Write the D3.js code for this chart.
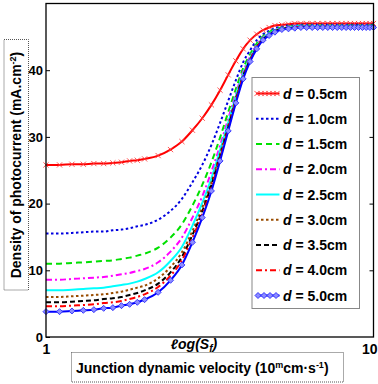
<!DOCTYPE html>
<html>
<head>
<meta charset="utf-8">
<script src="https://cdn.jsdelivr.net/npm/d3@7"></script>
<style>
  body { margin: 0; background: #fff; }
  text { font-family: "Liberation Sans", Arial, sans-serif; font-weight: bold; }
</style>
</head>
<body>
<div id="chart"></div>
<script>
// junction recombination velocity Sf (log axis, 1 .. 10)
const sf = [1.0, 1.1, 1.2, 1.3, 1.4, 1.5, 1.6, 1.7, 1.8, 1.9, 2.0,
  2.2, 2.4, 2.6, 2.8, 3.0, 3.2, 3.4, 3.6, 3.8, 4.0, 4.2, 4.4, 4.6, 4.8, 5.0,
  5.25, 5.5, 5.75, 6.0, 6.25, 6.5, 6.75, 7.0, 7.25, 7.5, 7.75, 8.0, 8.25, 8.5, 8.75, 9.0, 9.25, 9.5, 9.75, 10.0];

const d05 = [25.8, 25.8, 25.9, 25.9, 26.0, 26.0, 26.1, 26.2, 26.4, 26.5, 26.7,
  27.2, 28.1, 29.3, 31.0, 32.8, 34.8, 37.0, 39.3, 41.4, 43.2, 44.5, 45.4, 46.0, 46.4, 46.7,
  46.8, 46.9, 47.0, 47.0, 47.0, 47.0, 47.0, 47.0, 47.0, 47.0, 47.0, 47.0, 47.0, 47.0, 47.0, 47.0, 47.0, 47.0, 47.0, 47.0];
const d10 = [15.5, 15.5, 15.6, 15.7, 15.8, 15.8, 16.0, 16.1, 16.3, 16.6, 16.8,
  17.6, 18.9, 20.7, 23.2, 25.8, 28.8, 32.1, 35.4, 38.5, 41.2, 43.0, 44.5, 45.4, 45.9, 46.3,
  46.5, 46.7, 46.7, 46.8, 46.8, 46.8, 46.8, 46.8, 46.8, 46.8, 46.8, 46.8, 46.8, 46.8, 46.8, 46.8, 46.8, 46.8, 46.8, 46.8];
const d15 = [11.0, 11.0, 11.1, 11.2, 11.3, 11.4, 11.5, 11.7, 11.9, 12.2, 12.5,
  13.4, 14.9, 16.9, 19.7, 22.8, 26.2, 29.9, 33.7, 37.2, 40.3, 42.4, 44.0, 45.1, 45.7, 46.1,
  46.4, 46.6, 46.6, 46.7, 46.7, 46.7, 46.7, 46.7, 46.7, 46.7, 46.7, 46.7, 46.7, 46.7, 46.7, 46.7, 46.7, 46.7, 46.7, 46.7];
const d20 = [8.6, 8.6, 8.7, 8.8, 8.9, 9.0, 9.2, 9.4, 9.6, 9.9, 10.2,
  11.2, 12.8, 14.9, 17.9, 21.1, 24.8, 28.7, 32.7, 36.5, 39.8, 42.0, 43.8, 44.9, 45.5, 46.0,
  46.3, 46.5, 46.5, 46.6, 46.6, 46.6, 46.6, 46.6, 46.6, 46.6, 46.6, 46.6, 46.6, 46.6, 46.6, 46.6, 46.6, 46.6, 46.6, 46.6];
const d25 = [7.0, 7.0, 7.1, 7.2, 7.3, 7.4, 7.6, 7.8, 8.0, 8.3, 8.7,
  9.7, 11.4, 13.5, 16.7, 20.1, 23.8, 28.0, 32.1, 36.1, 39.5, 41.8, 43.6, 44.8, 45.5, 46.0,
  46.3, 46.4, 46.5, 46.6, 46.6, 46.6, 46.6, 46.6, 46.6, 46.6, 46.6, 46.6, 46.6, 46.6, 46.6, 46.6, 46.6, 46.6, 46.6, 46.6];
const d30 = [6.0, 6.0, 6.1, 6.2, 6.3, 6.4, 6.6, 6.8, 7.1, 7.4, 7.7,
  8.8, 10.5, 12.7, 15.9, 19.4, 23.2, 27.5, 31.7, 35.8, 39.2, 41.6, 43.5, 44.7, 45.4, 45.9,
  46.2, 46.3, 46.4, 46.5, 46.5, 46.5, 46.5, 46.5, 46.5, 46.5, 46.5, 46.5, 46.5, 46.5, 46.5, 46.5, 46.5, 46.5, 46.5, 46.5];
const d35 = [5.2, 5.2, 5.3, 5.4, 5.5, 5.7, 5.8, 6.0, 6.3, 6.6, 7.0,
  8.0, 9.7, 12.0, 15.3, 18.8, 22.8, 27.1, 31.4, 35.6, 39.1, 41.5, 43.4, 44.6, 45.3, 45.8,
  46.2, 46.3, 46.4, 46.5, 46.5, 46.5, 46.5, 46.5, 46.5, 46.5, 46.5, 46.5, 46.5, 46.5, 46.5, 46.5, 46.5, 46.5, 46.5, 46.5];
const d40 = [4.6, 4.6, 4.7, 4.8, 4.9, 5.1, 5.2, 5.4, 5.7, 6.0, 6.4,
  7.5, 9.2, 11.5, 14.9, 18.4, 22.4, 26.8, 31.2, 35.4, 39.0, 41.5, 43.4, 44.6, 45.3, 45.8,
  46.2, 46.3, 46.4, 46.5, 46.5, 46.5, 46.5, 46.5, 46.5, 46.5, 46.5, 46.5, 46.5, 46.5, 46.5, 46.5, 46.5, 46.5, 46.5, 46.5];
const d50 = [3.8, 3.8, 3.9, 4.0, 4.1, 4.3, 4.4, 4.7, 4.9, 5.2, 5.6,
  6.7, 8.5, 10.8, 14.2, 17.9, 21.9, 26.4, 30.9, 35.1, 38.7, 41.3, 43.2, 44.5, 45.2, 45.7,
  46.1, 46.2, 46.3, 46.4, 46.4, 46.4, 46.4, 46.4, 46.4, 46.4, 46.4, 46.4, 46.4, 46.4, 46.4, 46.4, 46.4, 46.4, 46.4, 46.4];

const thicknesses = ['0.5', '1.0', '1.5', '2.0', '2.5', '3.0', '3.5', '4.0', '5.0'];
const yTicks = [0, 10, 20, 30, 40];
const xTicks = [1, 10];

const series = [
  { d: thicknesses[0], values: d05, color: '#ff0000', dash: null, marker: 'x' },
  { d: thicknesses[1], values: d10, color: '#0000e0', dash: '2.5,2.5' },
  { d: thicknesses[2], values: d15, color: '#00e000', dash: '6,4' },
  { d: thicknesses[3], values: d20, color: '#ff00ff', dash: '6,3,2,3' },
  { d: thicknesses[4], values: d25, color: '#00ffff', dash: null },
  { d: thicknesses[5], values: d30, color: '#994c00', dash: '2.5,2.5' },
  { d: thicknesses[6], values: d35, color: '#000000', dash: '5,3' },
  { d: thicknesses[7], values: d40, color: '#ff0000', dash: '6,3,2,3' },
  { d: thicknesses[8], values: d50, color: '#0000ff', dash: null, marker: 'diamond' }
];

const W = 378, H = 384;
const margin = { top: 3.5, right: 4.5, bottom: 47, left: 46 };
const width = W - margin.left - margin.right;
const height = H - margin.top - margin.bottom;

const svg = d3.select('#chart').append('svg')
  .attr('width', W)
  .attr('height', H);

const g = svg.append('g')
  .attr('transform', `translate(${margin.left},${margin.top})`);

const x = d3.scaleLog().domain([1, 10]).range([0, width]);
const y = d3.scaleLinear().domain([0, 50]).range([height, 0]);

const line = d3.line()
  .x((v, i) => x(sf[i]))
  .y(v => y(v))
  .curve(d3.curveMonotoneX);

// marker drawers
const drawMarker = (sel, type, color, cx, cy) => {
  if (type === 'x') {
    const r = 2.6;
    sel.append('path')
      .attr('d', `M${cx - r},${cy - r}L${cx + r},${cy + r}M${cx - r},${cy + r}L${cx + r},${cy - r}`)
      .attr('stroke', '#ff4040')
      .attr('stroke-width', 0.9)
      .attr('fill', 'none');
  } else if (type === 'diamond') {
    const r = 3;
    sel.append('path')
      .attr('d', `M${cx},${cy - r}L${cx + r},${cy}L${cx},${cy + r}L${cx - r},${cy}Z`)
      .attr('stroke', '#2a2aff')
      .attr('stroke-width', 0.9)
      .attr('fill', '#8c8cff');
  }
};

// curves, last series on top like the figure
series.forEach(s => {
  g.append('path')
    .datum(s.values)
    .attr('fill', 'none')
    .attr('stroke', s.color)
    .attr('stroke-width', 2)
    .attr('stroke-dasharray', s.dash)
    .attr('d', line);
  if (s.marker) {
    const mg = g.append('g');
    s.values.forEach((v, i) => drawMarker(mg, s.marker, s.color, x(sf[i]), y(v)));
  }
});

// frame
g.append('rect')
  .attr('width', width)
  .attr('height', height)
  .attr('fill', 'none')
  .attr('stroke', '#000')
  .attr('stroke-width', 1.3);

// y axis with inward ticks
const yAxis = g.append('g')
  .call(d3.axisLeft(y).tickValues(yTicks).tickSizeInner(-4).tickSizeOuter(0).tickPadding(3));
yAxis.select('.domain').remove();
yAxis.selectAll('text').style('font-size', '13px').style('font-weight', 'bold');

const yAxisR = g.append('g')
  .attr('transform', `translate(${width},0)`)
  .call(d3.axisRight(y).tickValues(yTicks.slice(1)).tickSizeInner(-4).tickSizeOuter(0).tickFormat(''));
yAxisR.select('.domain').remove();

// x axis, only end labels
const xAxis = g.append('g')
  .attr('transform', `translate(0,${height})`)
  .call(d3.axisBottom(x).tickValues(xTicks).tickSize(0).tickPadding(7).tickFormat(d3.format('d')));
xAxis.select('.domain').remove();
xAxis.selectAll('text').style('font-size', '14px').style('font-weight', 'bold');
xAxis.selectAll('.tick').filter(d => d === 10).select('text')
  .attr('text-anchor', 'end')
  .attr('dx', 3.5);

// log(Sf) label under the axis
const lx = svg.append('text')
  .attr('x', 194)
  .attr('y', 349)
  .attr('text-anchor', 'middle')
  .style('font-size', '14px')
  .style('font-style', 'italic');
lx.append('tspan').text('\u2113og(S');
lx.append('tspan').attr('dy', 3).style('font-size', '10px').text('f');
lx.append('tspan').attr('dy', -3).text(')');

// x title in dotted box
svg.append('rect')
  .attr('x', 71.5).attr('y', 352.5)
  .attr('width', 272).attr('height', 29.5)
  .attr('fill', 'none')
  .attr('stroke', '#555')
  .attr('stroke-dasharray', '1,1');
const xt = svg.append('text')
  .attr('x', 76)
  .attr('y', 373)
  .style('font-size', '14px');
xt.append('tspan').text('Junction dynamic velocity (10');
xt.append('tspan').attr('dy', -5).style('font-size', '9px').text('m');
xt.append('tspan').attr('dy', 5).text('cm\u00b7s');
xt.append('tspan').attr('dy', -5).style('font-size', '9px').text('-1');
xt.append('tspan').attr('dy', 5).text(')');

// y title in dotted box
svg.append('rect')
  .attr('x', 4).attr('y', 39.5)
  .attr('width', 24.5).attr('height', 250.5)
  .attr('fill', 'none')
  .attr('stroke', '#555')
  .attr('stroke-dasharray', '1,1');
const yt = svg.append('text')
  .attr('transform', 'translate(21,165) rotate(-90)')
  .attr('text-anchor', 'middle')
  .style('font-size', '14px');
yt.append('tspan').text('Density of photocurrent (mA.cm');
yt.append('tspan').attr('dy', -5).style('font-size', '9px').text('-2');
yt.append('tspan').attr('dy', 5).text(')');

// legend
const legend = svg.append('g');
legend.append('rect')
  .attr('x', 252).attr('y', 77.5)
  .attr('width', 107.5).attr('height', 231)
  .attr('fill', '#fff')
  .attr('stroke', '#888')
  .attr('stroke-width', 1);

series.forEach((s, i) => {
  const ly = 93.5 + i * 25.25;
  const row = legend.append('g');
  row.append('line')
    .attr('x1', 256).attr('x2', 279.5)
    .attr('y1', ly).attr('y2', ly)
    .attr('stroke', s.color)
    .attr('stroke-width', 2)
    .attr('stroke-dasharray', s.dash);
  if (s.marker === 'x') {
    [257, 261, 265, 269, 273, 277].forEach(mx => drawMarker(row, 'x', s.color, mx, ly));
  } else if (s.marker === 'diamond') {
    [258, 264, 270, 276].forEach(mx => drawMarker(row, 'diamond', s.color, mx, ly));
  }
  const t = row.append('text')
    .attr('x', 283)
    .attr('y', ly + 5)
    .style('font-size', '14px');
  t.append('tspan').style('font-style', 'italic').text('d');
  t.append('tspan').text(` = ${s.d}cm`);
});
</script>
</body>
</html>
